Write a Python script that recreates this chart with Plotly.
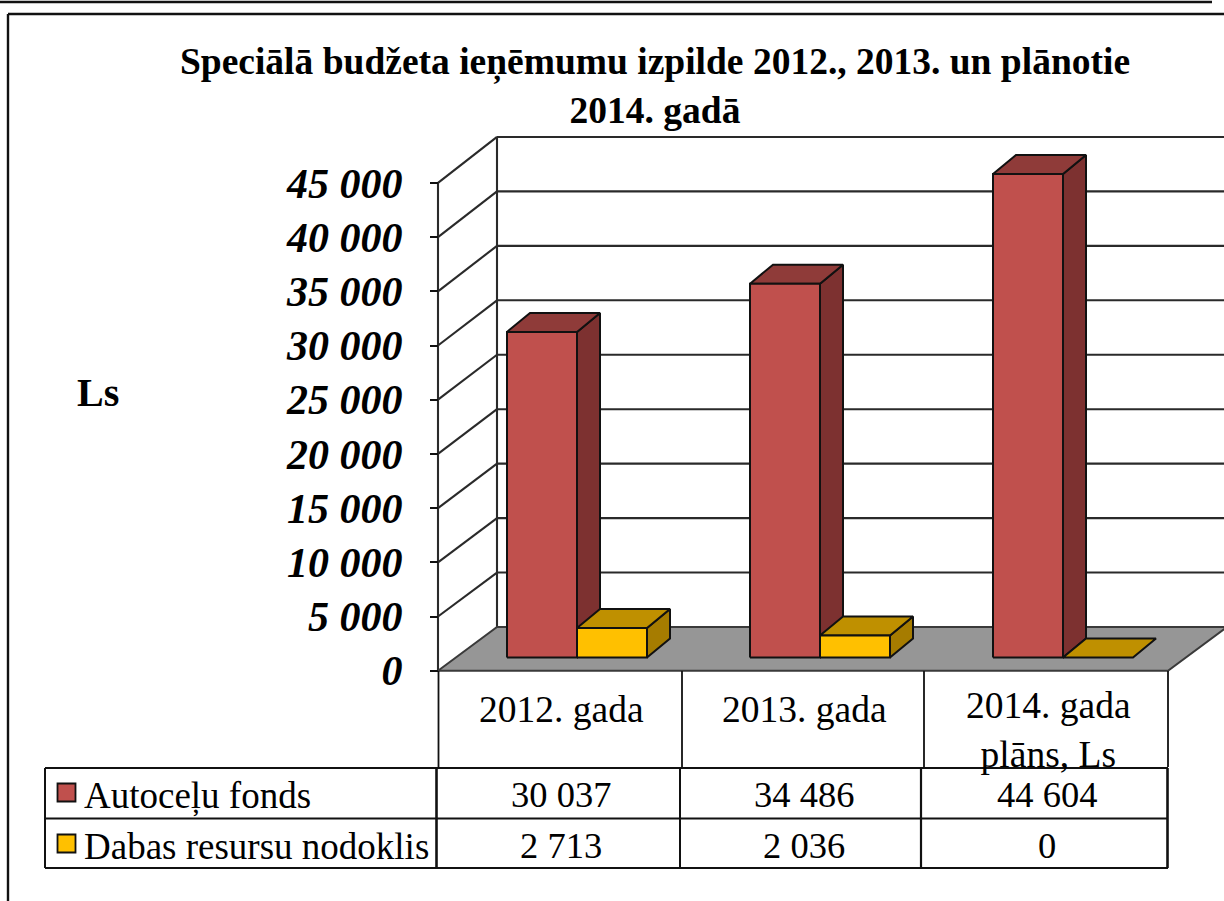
import plotly.graph_objects as go

# ---------- data ----------
categories = ["2012. gada", "2013. gada", "2014. gada<br>plāns, Ls"]
series_names = ["Autoceļu fonds", "Dabas resursu nodoklis"]
autoceli = [30037, 34486, 44604]
dabas = [2713, 2036, 0]
tick_values = [0, 5000, 10000, 15000, 20000, 25000, 30000, 35000, 40000, 45000]
tick_labels = ["0", "5 000", "10 000", "15 000", "20 000", "25 000", "30 000", "35 000", "40 000", "45 000"]
title_text = "Speciālā budžeta ieņēmumu izpilde 2012., 2013. un plānotie<br>2014. gadā"
unit_label = "Ls"

# ---------- layout geometry (pixels of the 1224x901 page) ----------
W, H = 1224, 901
X0, CAT_W = 438.0, 243.0        # left of plot, category width
Y0, PX_PER_UNIT = 670.7, 54.2 / 5000
WALL_DX, WALL_DY = 59.0, 43.7   # depth of the floor
WALL_STRETCH = 54.45 / 54.2
BAR_DX, BAR_DY = 23.0, 19.0     # depth of a bar
BASE_DY = 13.2                  # bar base position on the floor
GROUP_START = 69.0 / CAT_W
BAR_W = 70.0 / CAT_W
RIGHT_FRONT = 1168.0

def dx(px):
    return px / CAT_W

def dy(px):
    return px / PX_PER_UNIT

def fx(px):
    return (px - X0) / CAT_W

def fy(py):
    return (Y0 - py) / PX_PER_UNIT

def px(x):
    return x / W

def py(y):
    return 1 - y / H

INK = "#111111"
GRID = "#2A2A2A"
SERIF = "Liberation Serif"
COL = [
    {"front": "#C0504D", "top": "#8F3B39", "side": "#7D3130"},
    {"front": "#FFC000", "top": "#BF9000", "side": "#A67C00"},
]

fig = go.Figure()

def poly(xs, ys, fill, lw=2.0, line=INK, name=None):
    fig.add_trace(go.Scatter(
        x=xs + xs[:1], y=ys + ys[:1], mode="lines", fill="toself", fillcolor=fill,
        line=dict(color=line, width=lw), hoverinfo="skip", showlegend=False, name=name))

def lines(segments, color=GRID, lw=2.1):
    xs, ys = [], []
    for (x1, y1), (x2, y2) in segments:
        xs += [x1, x2, None]
        ys += [y1, y2, None]
    fig.add_trace(go.Scatter(x=xs, y=ys, mode="lines", line=dict(color=color, width=lw),
                             hoverinfo="skip", showlegend=False))

# walls: gridlines on the back and side walls
xw = dx(WALL_DX)
x_end = fx(W + 2)
def back(v):
    return v * WALL_STRETCH + dy(WALL_DY)

segs = []
for v in tick_values:
    segs.append(((xw, back(v)), (x_end, back(v))))
    if v:
        segs.append(((0, v), (xw, back(v))))
segs.append(((xw, back(0)), (xw, back(tick_values[-1]))))
segs.append(((0, 0), (0, tick_values[-1])))
lines(segs)

# floor
floor_right = fx(RIGHT_FRONT)
poly([0, floor_right, floor_right + xw, xw], [0, 0, back(0), back(0)], "#969696", lw=2.0, line="#3A3A3A")

# bars, drawn as front, top and side faces from the values
base_y = dy(BASE_DY)
ddx, ddy = dx(BAR_DX), dy(BAR_DY)
for i in range(len(categories)):
    for s, values in enumerate([autoceli, dabas]):
        v = values[i]
        x1 = i + GROUP_START + s * BAR_W
        x2 = x1 + BAR_W
        c = COL[s]
        yb, yt = base_y, base_y + v
        if v > 0:
            poly([x2, x2 + ddx, x2 + ddx, x2], [yb, yb + ddy, yt + ddy, yt], c["side"], name=series_names[s])
        poly([x1, x2, x2 + ddx, x1 + ddx], [yt, yt, yt + ddy, yt + ddy], c["top"], name=series_names[s])
        if v > 0:
            poly([x1, x2, x2, x1], [yb, yb, yt, yt], c["front"], name=series_names[s])

# legend keys in the data table
key_x = fx(66.5)
for s, key_y in enumerate([792.5, 843.5]):
    fig.add_trace(go.Scatter(x=[key_x], y=[fy(key_y)], mode="markers",
                             marker=dict(symbol="square", size=18, color=COL[s]["front"],
                                         line=dict(color=INK, width=1.8)),
                             hoverinfo="skip", showlegend=False))

# page rules and table lines
shapes = []
def rule(x1, y1, x2, y2, w=2.0, c=INK):
    shapes.append(dict(type="line", xref="paper", yref="paper", x0=px(x1), y0=py(y1), x1=px(x2), y1=py(y2),
                       line=dict(color=c, width=w)))

rule(0, 2, 1212, 2, 2.6)
rule(8, 14, 1224, 14, 2.6)
rule(8, 14, 8, 901, 2.4)
for xv in [438.5, 682, 924, 1168]:
    rule(xv, 671, xv, 767, 1.8)
for yv in [768, 818.5, 868]:
    rule(45, yv, 1168, yv, 2.0)
rule(45, 768, 45, 868, 2.0)
rule(436.5, 768, 436.5, 868, 2.6)
rule(680, 768, 680, 868, 2.0)
rule(921, 768, 921, 868, 2.2)
rule(1167.5, 768, 1167.5, 868, 2.6)

# text in the table
annos = []
def text(x, y, t, size, anchor="center", bold=False):
    annos.append(dict(xref="paper", yref="paper", x=px(x), y=py(y), text=("<b>%s</b>" % t) if bold else t,
                      showarrow=False, xanchor=anchor, yanchor="middle",
                      font=dict(family=SERIF, size=size, color="#000000"), align="center"))

for i, c in enumerate(categories):
    xc = X0 + (i + 0.5) * CAT_W
    if "<br>" in c:
        text(xc + 3, 730, c, 37.5)
    else:
        text(xc + 2, 709, c, 37.5)

def fmt(v):
    return f"{v:,}".replace(",", " ")

for i in range(len(categories)):
    xc = X0 + (i + 0.5) * CAT_W
    text(xc + 1, 794, fmt(autoceli[i]), 36.5)
    text(xc + 1, 845, fmt(dabas[i]), 36.5)
text(82, 796, series_names[0], 37, "left")
text(82, 846, series_names[1], 37, "left")
text(98, 392, unit_label, 40, bold=True)

fig.update_layout(
    width=W, height=H, margin=dict(l=0, r=0, t=0, b=0),
    paper_bgcolor="white", plot_bgcolor="rgba(0,0,0,0)", showlegend=False,
    title=dict(text="<b>%s</b>" % title_text, x=655 / W, xanchor="center", y=py(74), yanchor="middle",
               font=dict(family=SERIF, size=37.5, color="#000000")),
    xaxis=dict(range=[fx(0), fx(W)], visible=False, fixedrange=True),
    yaxis=dict(range=[fy(H), fy(0)], anchor="free", position=X0 / W, showgrid=False, zeroline=False,
               showline=False, tickmode="array", tickvals=tick_values, ticktext=tick_labels,
               ticks="outside", ticklen=8, tickwidth=2, tickcolor=INK, fixedrange=True, ticklabelstandoff=19,
               tickfont=dict(family=SERIF, size=42, color="#000000", weight="bold", style="italic")),
    shapes=shapes, annotations=annos,
)
fig.write_html("out.html", config={"displayModeBar": False},
               post_script="document.body.style.margin='0';document.body.style.overflow='hidden';")
